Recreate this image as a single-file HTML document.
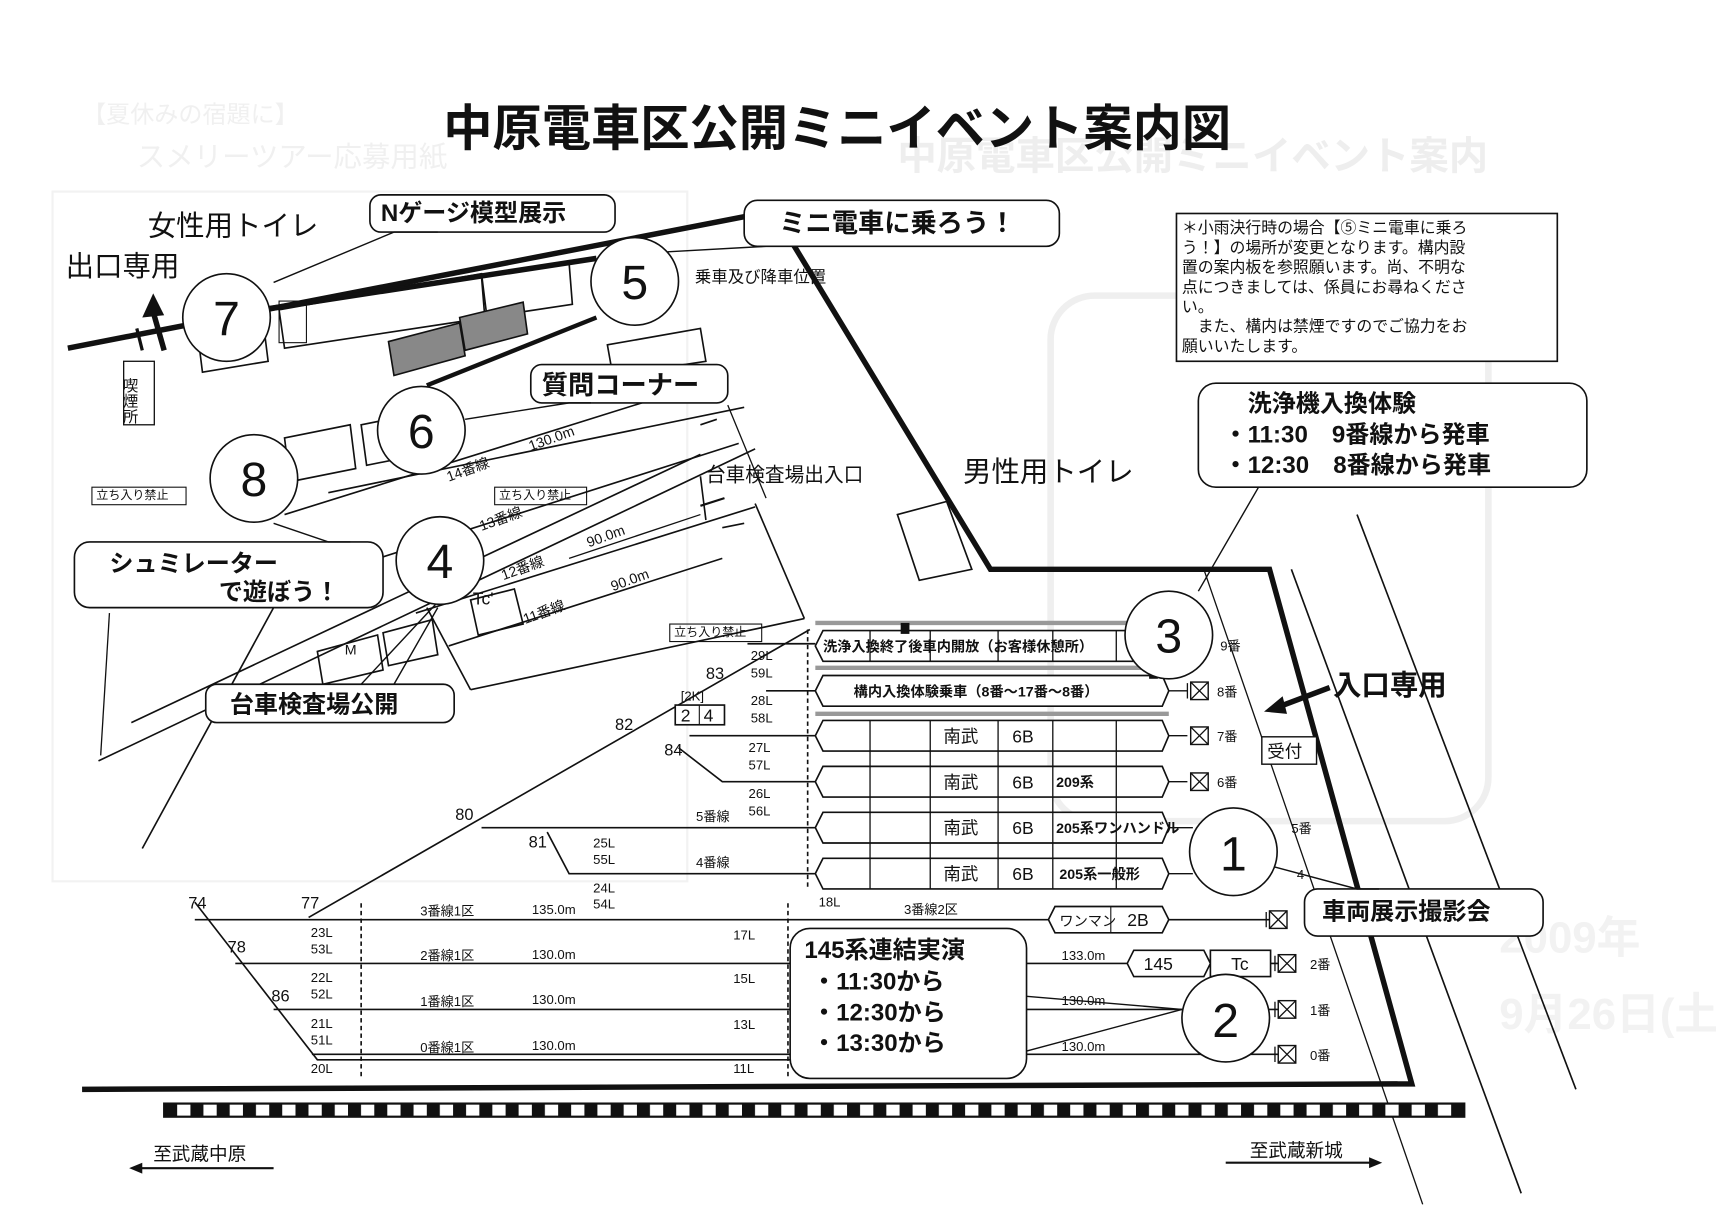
<!DOCTYPE html>
<html><head><meta charset="utf-8"><style>
html,body{margin:0;padding:0;background:#fff;}
svg{display:block;}
text{font-family:"Liberation Sans","Noto Sans CJK JP",sans-serif;fill:#111;}
.b{font-weight:bold;}
</style></head><body>
<svg width="1716" height="1224" viewBox="0 0 1568 1118" preserveAspectRatio="none" xmlns="http://www.w3.org/2000/svg">
<defs>
<pattern id="chk" x="150" y="0" width="24" height="12" patternUnits="userSpaceOnUse">
<rect width="12" height="12" fill="#111"/><rect x="12" width="12" height="12" fill="#fff"/>
</pattern>
</defs>
<rect width="1568" height="1118" fill="#fff"/>
<!-- faint background ghost -->
<g>
<text x="820" y="155" font-size="36" class="b" style="fill:#eeeeee">中原電車区公開ミニイベント案内</text>
<text x="75" y="112" font-size="22" style="fill:#f0f0f0">【夏休みの宿題に】</text>
<text x="125" y="152" font-size="26" style="fill:#f0f0f0">スメリーツアー応募用紙</text>
<text x="1370" y="870" font-size="40" class="b" style="fill:#f2f2f2">2009年</text>
<text x="1370" y="940" font-size="40" class="b" style="fill:#f2f2f2">9月26日(土)</text>
</g>
<rect x="960" y="270" width="400" height="480" rx="40" fill="none" stroke="#efefef" stroke-width="6"/>
<rect x="48" y="175" width="580" height="630" fill="none" stroke="#f2f2f2" stroke-width="2"/>
<!-- title -->
<text x="765" y="133" font-size="45" class="b" text-anchor="middle">中原電車区公開ミニイベント案内図</text>

<g stroke="#111" fill="none">
<line x1="62" y1="318" x2="690" y2="196" stroke-width="5"/>
<line x1="245" y1="282" x2="545" y2="236" stroke-width="5"/>
<line x1="390" y1="352" x2="545" y2="290" stroke-width="4"/>
<line x1="125" y1="300" x2="130" y2="320" stroke-width="3"/>
<polyline points="718,212 905,520 1160,520 1290,990 75,995" stroke-width="5"/>
<line x1="1240" y1="470" x2="1440" y2="995" stroke-width="1.5"/>
<line x1="1180" y1="520" x2="1390" y2="1090" stroke-width="1.5"/>
<line x1="1100" y1="520" x2="1300" y2="1100" stroke-width="1.2"/>
<line x1="90" y1="695" x2="690" y2="410" stroke-width="1.5"/>
<line x1="120" y1="660" x2="640" y2="415" stroke-width="1.5"/>
<line x1="260" y1="470" x2="660" y2="345" stroke-width="1.5"/>
<line x1="300" y1="450" x2="680" y2="372" stroke-width="1.5"/>
<line x1="330" y1="515" x2="675" y2="405" stroke-width="1.5"/>
<line x1="380" y1="560" x2="690" y2="463" stroke-width="1.5"/>
<line x1="410" y1="590" x2="660" y2="510" stroke-width="1.5"/>
<line x1="430" y1="630" x2="735" y2="565" stroke-width="1.5"/>
<line x1="390" y1="555" x2="430" y2="630" stroke-width="1.5"/>
<line x1="690" y1="460" x2="735" y2="565" stroke-width="1.5"/>
<line x1="130" y1="775" x2="280" y2="500" stroke-width="1.5"/>
<line x1="92" y1="690" x2="100" y2="560" stroke-width="1.2"/>
<line x1="665" y1="370" x2="700" y2="455" stroke-width="1.2"/>
<line x1="640" y1="435" x2="645" y2="475" stroke-width="1.5"/>
<line x1="660" y1="482" x2="680" y2="478" stroke-width="1.5"/>
<polygon points="180,300 240,290 245,330 185,340" stroke-width="1.5"/>
<polygon points="255,283 440,250 445,290 260,318" stroke-width="1.5"/>
<polygon points="440,253 520,240 523,278 443,290" stroke-width="1.5"/>
<polygon points="555,315 640,300 645,330 560,343" stroke-width="1.5"/>
<polygon points="260,400 320,388 325,428 265,440" stroke-width="1.5"/>
<polygon points="330,388 380,378 385,415 335,425" stroke-width="1.5"/>
<polygon points="430,548 470,538 478,570 437,580" stroke-width="1.5"/>
<polygon points="290,595 345,580 350,612 295,625" stroke-width="1.5"/>
<polygon points="350,578 395,566 400,598 355,608" stroke-width="1.5"/>
<polygon points="820,470 865,458 888,520 840,530" stroke-width="1.5"/>
<rect x="255" y="275" width="25" height="38" stroke-width="1"/>
<line x1="640" y1="388" x2="655" y2="383" stroke-width="1.5"/>
<line x1="520" y1="510" x2="640" y2="470" stroke-width="1.2"/>
<polygon points="355,312 420,295 425,325 360,343" fill="#888" stroke-width="1.5"/>
<polygon points="420,290 478,276 482,305 425,320" fill="#888" stroke-width="1.5"/>
<rect x="113" y="330" width="28" height="58" stroke-width="1.2"/>
<line x1="150" y1="320" x2="140" y2="285" stroke-width="5"/>
</g>
<polygon points="130,290 140,268 150,288" fill="#111"/>
<text x="118" y="345" font-size="14" writing-mode="tb">喫煙所</text>

<g stroke="#111" stroke-width="1.5" fill="none">
<line x1="683" y1="588" x2="745" y2="588"/>
<line x1="700" y1="631" x2="745" y2="631"/>
<line x1="630" y1="672" x2="745" y2="672"/>
<polyline points="620,683 660,714 745,714"/>
<line x1="440" y1="756" x2="745" y2="756"/>
<polyline points="500,760 520,798 745,798"/>
<line x1="282" y1="838" x2="740" y2="575"/>
<polyline points="178,824 290,968 740,968"/>
<line x1="178" y1="840" x2="1160" y2="840"/>
<line x1="215" y1="880" x2="1030" y2="880"/>
<line x1="1160" y1="880" x2="1168" y2="880"/>
<line x1="250" y1="922" x2="1168" y2="922"/>
<line x1="285" y1="963" x2="1168" y2="963"/>
<line x1="330" y1="825" x2="330" y2="985" stroke-dasharray="4,3"/>
<line x1="720" y1="825" x2="720" y2="985" stroke-dasharray="4,3"/>
<line x1="738" y1="575" x2="738" y2="810" stroke-dasharray="4,3"/>
</g>
<g stroke="#999" stroke-width="4">
<line x1="745" y1="569" x2="1068" y2="569"/>
<line x1="745" y1="610" x2="1068" y2="610"/>
<line x1="745" y1="652" x2="1068" y2="652"/>
</g>
<g stroke="#111" stroke-width="1.5" fill="#fff">
<polygon points="745,590 752,576 1062,576 1068,590 1062,604 752,604"/>
<polygon points="745,631 752,617 1062,617 1068,631 1062,645 752,645"/>
<polygon points="745,672 752,658 1062,658 1068,672 1062,686 752,686"/>
<polygon points="745,714 752,700 1062,700 1068,714 1062,728 752,728"/>
<polygon points="745,756 752,742 1062,742 1068,756 1062,770 752,770"/>
<polygon points="745,798 752,784 1062,784 1068,798 1062,812 752,812"/>
</g>
<g stroke="#111" stroke-width="1.2">
<line x1="795" y1="576" x2="795" y2="604"/><line x1="850" y1="576" x2="850" y2="604"/><line x1="912" y1="576" x2="912" y2="604"/><line x1="962" y1="576" x2="962" y2="604"/><line x1="1020" y1="576" x2="1020" y2="604"/>
<line x1="795" y1="658" x2="795" y2="812"/><line x1="850" y1="658" x2="850" y2="812"/><line x1="912" y1="658" x2="912" y2="812"/><line x1="962" y1="658" x2="962" y2="812"/><line x1="1020" y1="658" x2="1020" y2="812"/>
<line x1="1068" y1="631" x2="1085" y2="631"/><line x1="1068" y1="672" x2="1085" y2="672"/><line x1="1068" y1="714" x2="1085" y2="714"/>
<line x1="1068" y1="756" x2="1090" y2="756"/><line x1="1068" y1="798" x2="1090" y2="798"/>
</g>
<rect x="823" y="569" width="8" height="10" fill="#111"/>
<rect x="1050" y="610" width="8" height="10" fill="#111"/>
<g stroke="#111" stroke-width="1.5" fill="#fff">
<polygon points="958,840 964,828 1062,828 1068,840 1062,852 964,852"/>
<polygon points="1030,880 1036,868 1100,868 1106,880 1100,892 1036,892"/>
<rect x="1106" y="868" width="55" height="24"/>
<rect x="617" y="644" width="45" height="18"/>
</g>
<line x1="1015" y1="828" x2="1015" y2="852" stroke="#111"/>
<line x1="639" y1="644" x2="639" y2="662" stroke="#111"/>
<!-- end boxes with X -->
<g stroke="#111" stroke-width="1.3" fill="#fff">
<rect x="1088" y="623" width="16" height="16"/><rect x="1088" y="664" width="16" height="16"/><rect x="1088" y="706" width="16" height="16"/>
<rect x="1160" y="832" width="16" height="16"/><rect x="1168" y="872" width="16" height="16"/><rect x="1168" y="914" width="16" height="16"/><rect x="1168" y="955" width="16" height="16"/>
<rect x="1153" y="673" width="50" height="25"/>
</g>
<g stroke="#111" stroke-width="1.2">
<path d="M1088,623 l16,16 M1104,623 l-16,16 M1088,664 l16,16 M1104,664 l-16,16 M1088,706 l16,16 M1104,706 l-16,16 M1160,832 l16,16 M1176,832 l-16,16 M1168,872 l16,16 M1184,872 l-16,16 M1168,914 l16,16 M1184,914 l-16,16 M1168,955 l16,16 M1184,955 l-16,16"/>
<path d="M1085,624 v14 M1165,873 v14 M1165,915 v14 M1165,956 v14 M1157,833 v14"/>
</g>
<!-- bottom checker -->
<rect x="150" y="1008" width="1188" height="12" fill="url(#chk)" stroke="#111" stroke-width="2"/>
<line x1="250" y1="1067" x2="122" y2="1067" stroke="#111" stroke-width="2"/>
<polygon points="118,1067 130,1062 130,1072" fill="#111"/>
<line x1="1120" y1="1062" x2="1258" y2="1062" stroke="#111" stroke-width="2"/>
<polygon points="1263,1062 1251,1057 1251,1067" fill="#111"/>
<text x="140" y="1060" font-size="17">至武蔵中原</text>
<text x="1142" y="1057" font-size="17">至武蔵新城</text>

<g stroke="#111" stroke-width="1.5" fill="#fff">
<rect x="338" y="178" width="224" height="34" rx="10"/>
<rect x="680" y="183" width="288" height="42" rx="12"/>
<rect x="485" y="333" width="180" height="35" rx="10"/>
<rect x="68" y="495" width="282" height="60" rx="14"/>
<rect x="188" y="625" width="227" height="35" rx="10"/>
<rect x="1095" y="350" width="355" height="95" rx="16"/>
<rect x="1192" y="812" width="218" height="43" rx="12"/>
<rect x="722" y="848" width="216" height="137" rx="18"/>
<rect x="1075" y="195" width="348" height="135" rx="0"/>
<circle cx="207" cy="290" r="40"/>
<circle cx="580" cy="257" r="40"/>
<circle cx="385" cy="393" r="40"/>
<circle cx="232" cy="437" r="40"/>
<circle cx="402" cy="512" r="40"/>
<circle cx="1068" cy="580" r="40"/>
<circle cx="1127" cy="778" r="40"/>
<circle cx="1120" cy="930" r="40"/>
</g>
<g stroke="#111" stroke-width="1.3" fill="none">
<polyline points="250,258 360,212 400,212"/>
<polyline points="610,230 700,225 720,225"/>
<polyline points="425,383 520,368 540,368"/>
<polyline points="250,478 300,495 320,495"/>
<polyline points="398,552 330,625 360,625 400,555"/>
<polyline points="1095,540 1150,445 1180,445"/>
<polyline points="1165,792 1240,812 1260,812"/>
<polyline points="938,910 1080,922 938,960"/>
</g>
<g font-size="44" text-anchor="middle">
<text x="207" y="306">7</text><text x="580" y="273">5</text><text x="385" y="409">6</text><text x="232" y="453">8</text>
<text x="402" y="528">4</text><text x="1068" y="596">3</text><text x="1127" y="795">1</text><text x="1120" y="947">2</text>
</g>
<g class="b">
<text x="348" y="202" font-size="22">Nゲージ模型展示</text>
<text x="712" y="212" font-size="24">ミニ電車に乗ろう！</text>
<text x="495" y="360" font-size="24">質問コーナー</text>
<text x="100" y="522" font-size="22">シュミレーター</text>
<text x="200" y="548" font-size="22">で遊ぼう！</text>
<text x="210" y="651" font-size="22">台車検査場公開</text>
<text x="1140" y="376" font-size="22">洗浄機入換体験</text>
<text x="1118" y="404" font-size="22">・11:30　9番線から発車</text>
<text x="1118" y="432" font-size="22">・12:30　8番線から発車</text>
<text x="1208" y="840" font-size="22">車両展示撮影会</text>
<text x="735" y="875" font-size="22">145系連結実演</text>
<text x="742" y="904" font-size="22">・11:30から</text>
<text x="742" y="932" font-size="22">・12:30から</text>
<text x="742" y="960" font-size="22">・13:30から</text>
</g>
<g font-size="26">
<text x="135" y="215">女性用トイレ</text>
<text x="60" y="252">出口専用</text>
<text x="880" y="440">男性用トイレ</text>
<text x="1218" y="635" class="b">入口専用</text>
</g>
<line x1="1215" y1="628" x2="1170" y2="645" stroke="#111" stroke-width="5"/>
<polygon points="1155,650 1172,636 1176,652" fill="#111"/>
<line x1="662" y1="455" x2="640" y2="462" stroke="#111" stroke-width="2"/>
<text x="645" y="440" font-size="18">台車検査場出入口</text>
<text x="635" y="258" font-size="15">乗車及び降車位置</text>
<text x="1158" y="692" font-size="16">受付</text>
<g font-size="14.5">
<text x="1080" y="213">＊小雨決行時の場合【⑤ミニ電車に乗ろ</text>
<text x="1080" y="231">う！】の場所が変更となります。構内設</text>
<text x="1080" y="249">置の案内板を参照願います。尚、不明な</text>
<text x="1080" y="267">点につきましては、係員にお尋ねくださ</text>
<text x="1080" y="285">い。</text>
<text x="1080" y="303">　また、構内は禁煙ですのでご協力をお</text>
<text x="1080" y="321">願いいたします。</text>
</g>
<g font-size="13" class="b">
<text x="752" y="595">洗浄入換終了後車内開放（お客様休憩所）</text>
<text x="780" y="636">構内入換体験乗車（8番～17番～8番）</text>
<text x="965" y="719">209系</text>
<text x="965" y="761">205系ワンハンドル</text>
<text x="968" y="803">205系一般形</text>
</g>
<g font-size="16">
<text x="862" y="678">南武</text><text x="925" y="678">6B</text>
<text x="862" y="720">南武</text><text x="925" y="720">6B</text>
<text x="862" y="762">南武</text><text x="925" y="762">6B</text>
<text x="862" y="804">南武</text><text x="925" y="804">6B</text>
<text x="968" y="846" font-size="13">ワンマン</text><text x="1030" y="846">2B</text>
<text x="1045" y="886">145</text><text x="1125" y="886">Tc</text>
<text x="622" y="659">2</text><text x="643" y="659">4</text>
<text x="622" y="640" font-size="12">[2K]</text>
<text x="432" y="552">Tc'</text><text x="315" y="598" font-size="13">M</text>
</g>
<g font-size="12">
<text x="1115" y="594">9番</text><text x="1112" y="636">8番</text><text x="1112" y="677">7番</text><text x="1112" y="719">6番</text>
<text x="1180" y="761">5番</text><text x="1185" y="803">4</text>
<text x="1197" y="885">2番</text><text x="1197" y="927">1番</text><text x="1197" y="968">0番</text>
<text x="384" y="836">3番線1区</text><text x="486" y="835">135.0m</text>
<text x="384" y="877">2番線1区</text><text x="486" y="876">130.0m</text>
<text x="384" y="919">1番線1区</text><text x="486" y="917">130.0m</text>
<text x="384" y="961">0番線1区</text><text x="486" y="959">130.0m</text>
<text x="826" y="835">3番線2区</text>
<text x="970" y="877">133.0m</text><text x="970" y="918">130.0m</text><text x="970" y="960">130.0m</text>
<text x="636" y="750">5番線</text><text x="636" y="792">4番線</text>
<text x="686" y="603">29L</text><text x="686" y="619">59L</text>
<text x="686" y="644">28L</text><text x="686" y="660">58L</text>
<text x="684" y="687">27L</text><text x="684" y="703">57L</text>
<text x="684" y="729">26L</text><text x="684" y="745">56L</text>
<text x="542" y="774">25L</text><text x="542" y="789">55L</text>
<text x="542" y="815">24L</text><text x="542" y="830">54L</text>
<text x="284" y="856">23L</text><text x="284" y="871">53L</text>
<text x="284" y="897">22L</text><text x="284" y="912">52L</text>
<text x="284" y="939">21L</text><text x="284" y="954">51L</text>
<text x="284" y="980">20L</text>
<text x="670" y="858">17L</text><text x="670" y="898">15L</text><text x="670" y="940">13L</text><text x="670" y="980">11L</text>
<text x="748" y="828">18L</text>
<text x="88" y="456" font-size="11">立ち入り禁止</text>
<text x="456" y="456" font-size="11">立ち入り禁止</text>
<text x="616" y="581" font-size="11">立ち入り禁止</text>
</g>
<g stroke="#111" fill="none" stroke-width="1"><rect x="84" y="445" width="86" height="16"/><rect x="452" y="445" width="84" height="16"/><rect x="612" y="570" width="84" height="16"/></g>
<g font-size="15">
<text x="645" y="620">83</text><text x="562" y="667">82</text><text x="607" y="690">84</text>
<text x="416" y="749">80</text><text x="483" y="774">81</text>
<text x="172" y="830">74</text><text x="275" y="830">77</text><text x="208" y="870">78</text><text x="248" y="915">86</text>
</g>
<g font-size="13">
<text x="410" y="440" transform="rotate(-20 410 440)">14番線</text>
<text x="485" y="412" transform="rotate(-20 485 412)">130.0m</text>
<text x="440" y="485" transform="rotate(-20 440 485)">13番線</text>
<text x="460" y="530" transform="rotate(-20 460 530)">12番線</text>
<text x="538" y="500" transform="rotate(-20 538 500)">90.0m</text>
<text x="480" y="570" transform="rotate(-20 480 570)">11番線</text>
<text x="560" y="540" transform="rotate(-20 560 540)">90.0m</text>
</g>
</svg>
</body></html>
